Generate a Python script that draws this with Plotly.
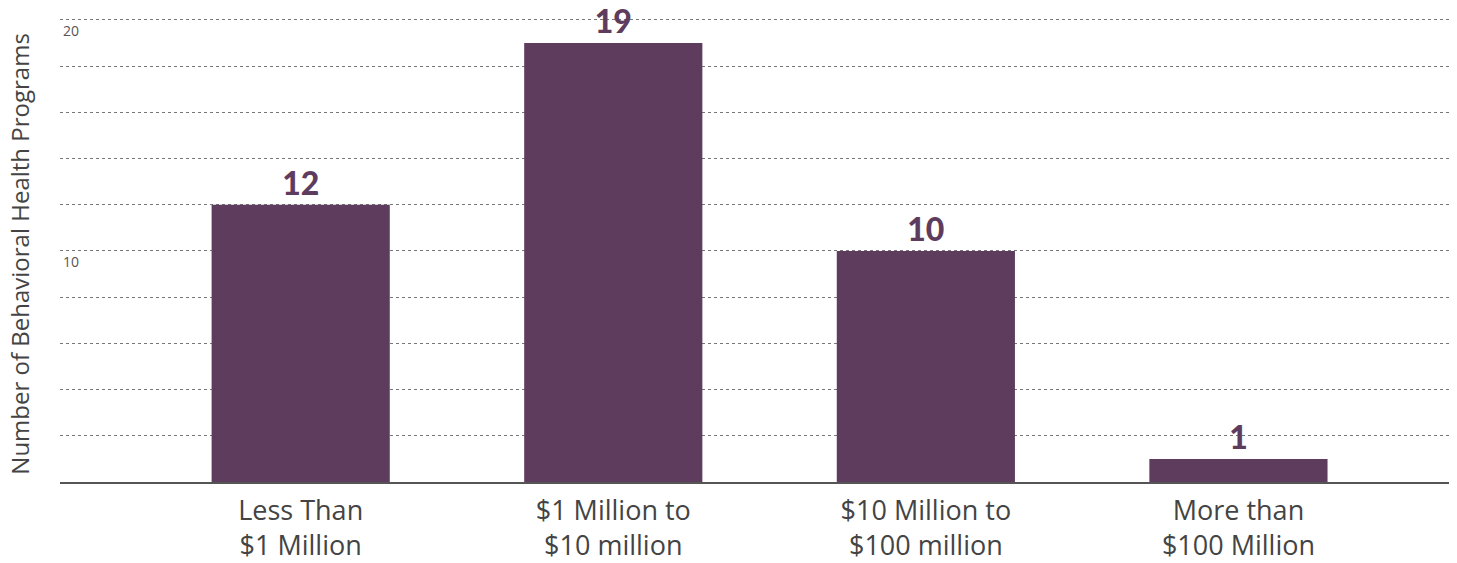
import plotly.graph_objects as go

categories = ["Less Than<br>$1 Million", "$1 Million to<br>$10 million",
              "$10 Million to<br>$100 million", "More than<br>$100 Million"]
values = [12, 19, 10, 1]
tick_vals = [0, 10, 20]
tick_text = ["0", "10", "20"]
y_title = "Number of Behavioral Health Programs"

bar_color = "#5e3c5e"
font_family = "'Open Sans', 'Noto Sans', sans-serif"

fig = go.Figure(go.Bar(
    x=list(range(len(categories))),
    y=values,
    marker=dict(color=bar_color, line=dict(width=0)),
    width=0.57,
    text=[str(v) for v in values],
    textposition="outside",
    textfont=dict(size=32, color=bar_color, family="Lato, sans-serif", weight=900),
    cliponaxis=False,
))

fig.update_layout(
    width=1449, height=555,
    margin=dict(l=52, r=6, t=5, b=81),
    plot_bgcolor="white", paper_bgcolor="white",
    font=dict(family=font_family, color="#444444"),
    showlegend=False,
)

fig.update_xaxes(
    automargin=False,
    tickmode="array",
    tickvals=list(range(len(categories))),
    ticktext=categories,
    range=[-0.77, 3.68],
    tickfont=dict(size=27, color="#444444"),
    ticklabelstandoff=4,
    showline=True, linecolor="#555555", linewidth=1.5,
    showgrid=False, zeroline=False, ticks="",
)

fig.update_yaxes(
    automargin=False,
    range=[0, 20.3],
    tickmode="array",
    tickvals=tick_vals,
    ticktext=tick_text,
    ticklabelposition="inside",
    ticklabelshift=11,
    tickfont=dict(size=14, color="#555555"),
    showgrid=True, gridcolor="#777777", griddash="dot", gridwidth=1,
    minor=dict(dtick=2, showgrid=True, gridcolor="#777777", griddash="dot", gridwidth=1),
    zeroline=False, showline=False, ticks="",
)

fig.add_annotation(
    text=y_title, textangle=-90,
    xref="paper", yref="paper", x=-0.0287, y=0.487,
    xanchor="center", yanchor="middle", showarrow=False,
    font=dict(size=24, color="#444444"),
)

fig.write_html("out.html")
